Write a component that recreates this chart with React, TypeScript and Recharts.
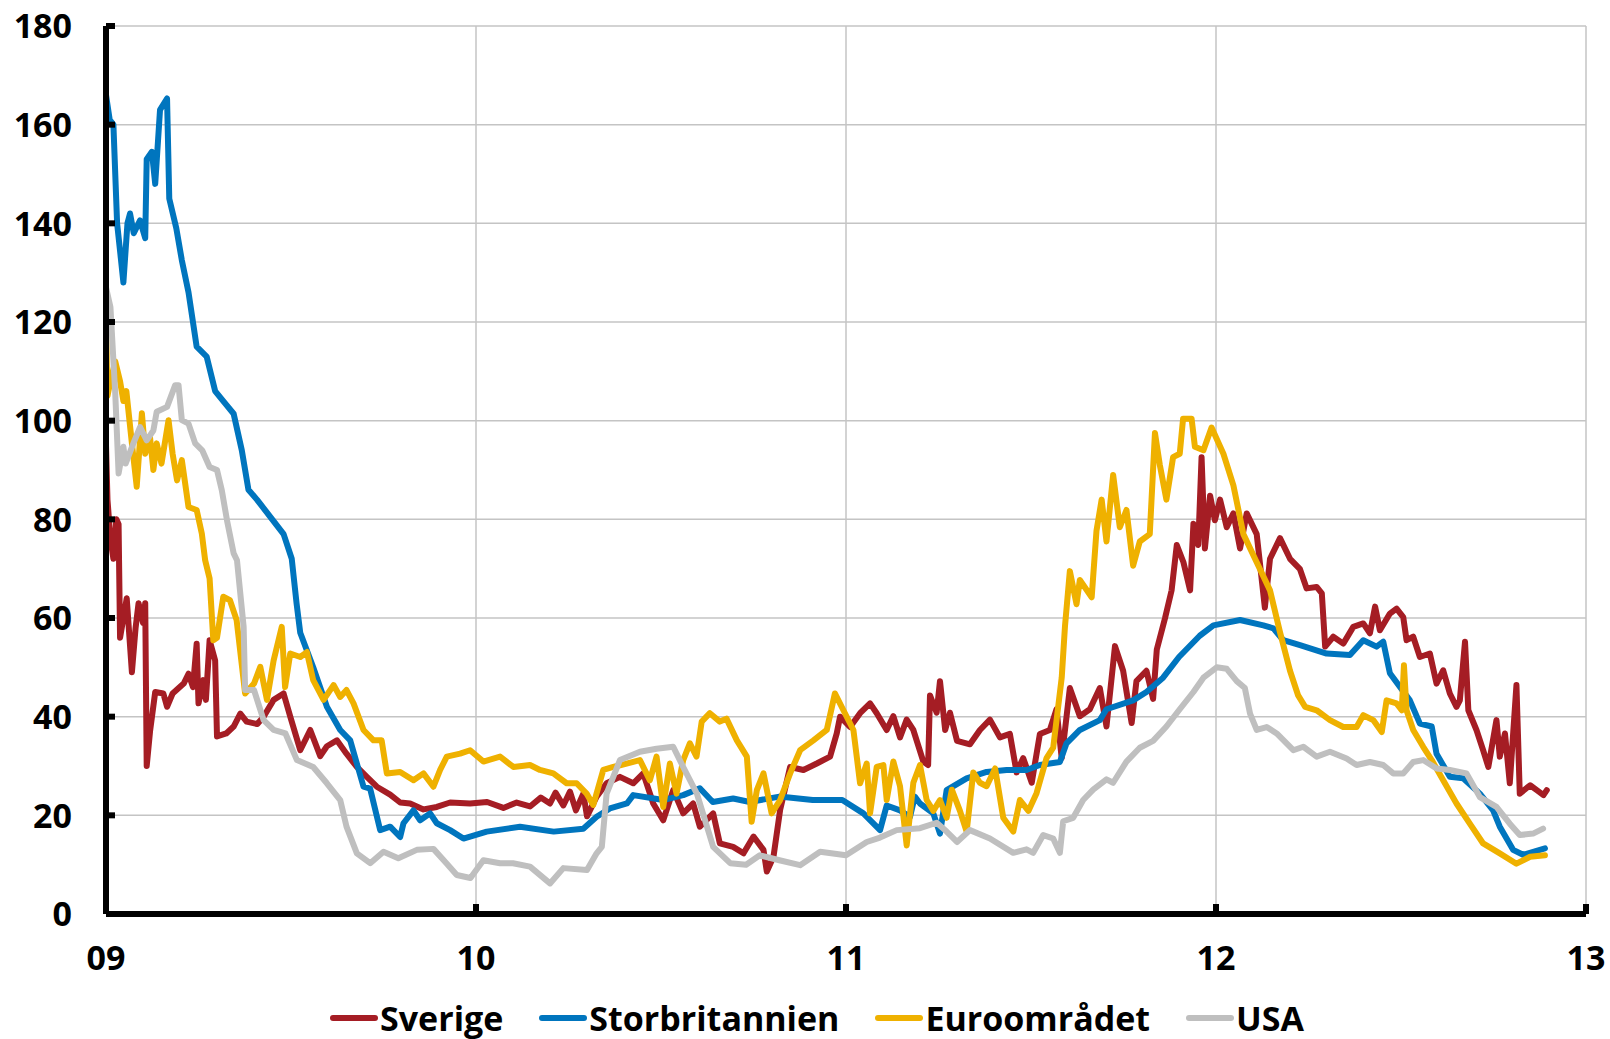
import { LineChart, Line, XAxis, YAxis, CartesianGrid } from "recharts";

const W = 1610;
const H = 1039;
const START_YEAR = 2009;

const yearTicks = [2009, 2010, 2011, 2012, 2013];
const yearLabels = ["09", "10", "11", "12", "13"];
const valueTicks = [0, 20, 40, 60, 80, 100, 120, 140, 160, 180];

// [år efter 2009-01-01, värde]
const sverige: [number, number][] = [
  [0, 95], [0.004, 84], [0.012, 76], [0.02, 72], [0.028, 80], [0.034, 79], [0.038, 56], [0.047, 60],
  [0.056, 64], [0.07, 49], [0.08, 58], [0.088, 63], [0.1, 59], [0.106, 63], [0.11, 30], [0.119, 37],
  [0.133, 45], [0.155, 44.7], [0.165, 42], [0.18, 44.7], [0.21, 46.7], [0.223, 48.7], [0.235, 46],
  [0.245, 54.8], [0.25, 42.7], [0.263, 47.4], [0.27, 43.4], [0.28, 55.5], [0.295, 51.4], [0.3, 36],
  [0.325, 36.6], [0.345, 38], [0.363, 40.6], [0.38, 39], [0.409, 38.5], [0.426, 40], [0.453, 43.4],
  [0.48, 44.7], [0.498, 40], [0.525, 33.2], [0.552, 37.3], [0.579, 32], [0.597, 34], [0.624, 35.2],
  [0.65, 32.5], [0.678, 29.8], [0.705, 27.8], [0.732, 25.8], [0.768, 24.2], [0.795, 22.6], [0.822, 22.4],
  [0.858, 21.2], [0.894, 21.7], [0.93, 22.6], [0.984, 22.4], [1.03, 22.7], [1.074, 21.5], [1.11, 22.6],
  [1.146, 21.8], [1.175, 23.6], [1.2, 22.4], [1.215, 24.6], [1.236, 22], [1.254, 24.8], [1.27, 21],
  [1.29, 24.4], [1.3, 19.8], [1.326, 23.8], [1.353, 26.5], [1.389, 27.8], [1.425, 26.5], [1.452, 28.5],
  [1.479, 22.4], [1.506, 19], [1.533, 25.1], [1.56, 20.4], [1.587, 22.4], [1.605, 17.7], [1.641, 20.4],
  [1.659, 14.3], [1.695, 13.6], [1.723, 12.3], [1.75, 15.7], [1.777, 13], [1.786, 8.6], [1.804, 11.6],
  [1.822, 21.1], [1.849, 29.8], [1.885, 29.2], [1.921, 30.5], [1.957, 31.9], [1.975, 36.6], [1.984, 40],
  [2.011, 37.9], [2.038, 40.7], [2.065, 42.7], [2.083, 40.7], [2.11, 37.3], [2.128, 40.1], [2.146, 35.8],
  [2.164, 39.4], [2.182, 37.3], [2.209, 30.9], [2.222, 30.2], [2.227, 44.3], [2.245, 40.8], [2.254, 47.2],
  [2.268, 37.3], [2.281, 40.8], [2.3, 35.1], [2.335, 34.4], [2.362, 37.3], [2.389, 39.4], [2.416, 35.8],
  [2.443, 36.5], [2.461, 28.7], [2.479, 31.6], [2.502, 26.6], [2.524, 36.5], [2.551, 37.3], [2.569, 41.5],
  [2.583, 31.6], [2.605, 45.8], [2.632, 40.1], [2.659, 41.5], [2.686, 45.8], [2.704, 38], [2.727, 54.3],
  [2.749, 49.3], [2.772, 38.7], [2.785, 47.2], [2.812, 49.3], [2.83, 43.6], [2.84, 53.6], [2.862, 59.9],
  [2.88, 65.6], [2.894, 74.8], [2.912, 71.3], [2.93, 65.6], [2.939, 79.1], [2.952, 74.8], [2.961, 92.6],
  [2.97, 74.1], [2.984, 84.8], [2.997, 79.8], [3.011, 84], [3.029, 78.4], [3.047, 81.2], [3.065, 74.1],
  [3.083, 81.2], [3.11, 77], [3.132, 62.1], [3.146, 72], [3.173, 76.2], [3.2, 72], [3.227, 69.9],
  [3.245, 66], [3.272, 66.3], [3.286, 65], [3.295, 54.2], [3.317, 56.2], [3.344, 54.8], [3.371, 58.2],
  [3.398, 58.9], [3.416, 56.9], [3.43, 62.3], [3.443, 57.5], [3.47, 60.9], [3.488, 61.9], [3.506, 60.2],
  [3.515, 55.5], [3.533, 56.2], [3.551, 52.1], [3.578, 52.8], [3.596, 46.7], [3.614, 49.4], [3.632, 44.7],
  [3.65, 42], [3.659, 43.3], [3.673, 55.2], [3.682, 41.3], [3.704, 37.3], [3.722, 33.2], [3.736, 29.8],
  [3.758, 39.3], [3.767, 31.9], [3.781, 36.6], [3.794, 26.5], [3.812, 46.4], [3.821, 24.4], [3.849, 26.1],
  [3.867, 25.1], [3.885, 24.1], [3.894, 25.1],
];

const storbritannien: [number, number][] = [
  [0, 166], [0.01, 161], [0.02, 160], [0.03, 140], [0.04, 133], [0.047, 128], [0.058, 140], [0.065, 142],
  [0.075, 138], [0.092, 140.6], [0.106, 137], [0.11, 153], [0.124, 154.5], [0.133, 148], [0.146, 163],
  [0.165, 165.3], [0.171, 145], [0.19, 139], [0.205, 132.5], [0.223, 126], [0.245, 115], [0.272, 113],
  [0.295, 106], [0.322, 103.5], [0.345, 101.4], [0.367, 94], [0.385, 86], [0.408, 84], [0.444, 80.5],
  [0.48, 77], [0.502, 72], [0.515, 63], [0.525, 57], [0.56, 50], [0.597, 42], [0.633, 37.3], [0.66, 35.2],
  [0.678, 30.5], [0.696, 25.8], [0.714, 25.4], [0.741, 17], [0.768, 17.7], [0.795, 15.6], [0.804, 18.4],
  [0.831, 21], [0.849, 19], [0.876, 20.4], [0.894, 18.4], [0.93, 17], [0.966, 15.3], [1.029, 16.7],
  [1.119, 17.7], [1.21, 16.7], [1.29, 17.3], [1.326, 19.7], [1.362, 21.4], [1.408, 22.4], [1.425, 24.1],
  [1.506, 23.1], [1.56, 24.1], [1.605, 25.5], [1.64, 22.7], [1.695, 23.4], [1.74, 22.7], [1.82, 23.8],
  [1.91, 23.1], [1.99, 23.1], [2.047, 20.4], [2.092, 17], [2.11, 22], [2.146, 21], [2.173, 19.7],
  [2.186, 23.8], [2.2, 22.4], [2.236, 20.4], [2.254, 16.3], [2.272, 25.1], [2.326, 27.5], [2.38, 28.8],
  [2.434, 29.2], [2.488, 29.2], [2.524, 30.2], [2.578, 30.8], [2.596, 34.6], [2.632, 37.3], [2.686, 39.3],
  [2.704, 41.5], [2.776, 43.3], [2.812, 45], [2.857, 47.9], [2.9, 52.1], [2.956, 56.4], [2.993, 58.5],
  [3.065, 59.6], [3.128, 58.5], [3.155, 57.9], [3.182, 55.5], [3.227, 54.5], [3.299, 52.8], [3.362, 52.5],
  [3.398, 55.5], [3.434, 54.2], [3.452, 55.2], [3.47, 48.8], [3.524, 43.3], [3.551, 38.6], [3.583, 38],
  [3.596, 32.5], [3.632, 27.8], [3.668, 27.5], [3.713, 24.4], [3.749, 21], [3.767, 17.7], [3.803, 13],
  [3.83, 12], [3.889, 13.3],
];

const euroomradet: [number, number][] = [
  [0, 120], [0.004, 105], [0.012, 108], [0.025, 112], [0.038, 108], [0.047, 104], [0.055, 106], [0.07, 95.4],
  [0.083, 86.6], [0.097, 101.5], [0.106, 93.3], [0.119, 96.6], [0.128, 90], [0.137, 95.4], [0.15, 91.3],
  [0.169, 100.1], [0.18, 93.3], [0.192, 87.9], [0.205, 92], [0.223, 82.5], [0.245, 81.9], [0.259, 77.1],
  [0.268, 71.7], [0.28, 68], [0.29, 55.5], [0.3, 56], [0.317, 64.3], [0.335, 63.6], [0.353, 59.6],
  [0.376, 44.7], [0.4, 46.7], [0.417, 50.1], [0.435, 43.4], [0.453, 51.4], [0.475, 58.2], [0.484, 46],
  [0.498, 52.8], [0.525, 52.1], [0.543, 53.1], [0.56, 47.4], [0.588, 43.4], [0.615, 46.4], [0.633, 44],
  [0.65, 45.4], [0.669, 42.7], [0.696, 37.3], [0.723, 35.2], [0.745, 35.2], [0.759, 28.5], [0.795, 28.8],
  [0.831, 27.1], [0.858, 28.5], [0.885, 25.8], [0.903, 29.2], [0.921, 31.9], [0.957, 32.5], [0.984, 33.2],
  [1.02, 30.9], [1.065, 31.9], [1.101, 29.8], [1.146, 30.2], [1.173, 29.2], [1.209, 28.5], [1.245, 26.5],
  [1.272, 26.5], [1.299, 24.4], [1.317, 22.1], [1.344, 29.2], [1.371, 29.8], [1.407, 30.5], [1.443, 31.2],
  [1.47, 27.1], [1.488, 31.9], [1.506, 21.7], [1.524, 30.5], [1.542, 24.4], [1.56, 31.2], [1.578, 34.6],
  [1.596, 31.9], [1.61, 39], [1.632, 40.7], [1.659, 39], [1.677, 39.6], [1.705, 35.2], [1.732, 31.9],
  [1.745, 18.7], [1.759, 25.1], [1.777, 28.5], [1.799, 20.4], [1.822, 23.1], [1.849, 28.5], [1.876, 33.2],
  [1.912, 35.2], [1.948, 37.3], [1.97, 44.7], [1.993, 41.3], [2.02, 37.3], [2.038, 26.5], [2.056, 30.5],
  [2.065, 20.4], [2.083, 29.8], [2.101, 30.2], [2.11, 23.1], [2.128, 30.9], [2.146, 25.9], [2.164, 13.9],
  [2.182, 26.6], [2.2, 30.2], [2.218, 23.1], [2.236, 20.9], [2.254, 23.1], [2.272, 19.5], [2.286, 25.2],
  [2.308, 20.9], [2.326, 16.7], [2.344, 28.7], [2.362, 26.6], [2.38, 25.9], [2.403, 29.5], [2.425, 19.5],
  [2.452, 16.7], [2.47, 23.1], [2.493, 20.9], [2.515, 24.5], [2.542, 31.6], [2.56, 33.7], [2.583, 47.9],
  [2.592, 58.5], [2.605, 69.5], [2.623, 62.8], [2.632, 67.7], [2.664, 64.2], [2.677, 77.7], [2.691, 84],
  [2.704, 75.5], [2.722, 89], [2.74, 78.4], [2.758, 81.9], [2.776, 70.6], [2.794, 75.5], [2.821, 77],
  [2.835, 97.5], [2.848, 91.1], [2.866, 84], [2.884, 92.6], [2.902, 93.3], [2.911, 100.4], [2.934, 100.4],
  [2.943, 94.7], [2.966, 94], [2.988, 98.6], [3.02, 93.3], [3.047, 86.9], [3.074, 77], [3.11, 71.3],
  [3.146, 65.6], [3.173, 57.1], [3.2, 49.3], [3.222, 44.3], [3.241, 42], [3.272, 41.3], [3.308, 39.3],
  [3.344, 37.9], [3.38, 37.9], [3.398, 40.3], [3.425, 39.3], [3.448, 36.9], [3.461, 43.3], [3.488, 42.7],
  [3.502, 41.3], [3.508, 50.4], [3.515, 41.3], [3.533, 37.3], [3.56, 33.9], [3.583, 31.2], [3.614, 27.1],
  [3.65, 22.4], [3.686, 18.3], [3.722, 14.3], [3.767, 12.3], [3.812, 10.2], [3.849, 11.6], [3.889, 11.9],
];

const usa: [number, number][] = [
  [0, 127], [0.012, 123], [0.025, 105.5], [0.034, 89.3], [0.047, 94.7], [0.053, 91.3], [0.074, 95.4],
  [0.092, 98.7], [0.11, 96], [0.128, 98], [0.137, 101.8], [0.165, 102.8], [0.187, 107.2], [0.196, 107.2],
  [0.205, 100.1], [0.223, 99.4], [0.241, 95.4], [0.26, 94], [0.28, 90.6], [0.3, 90], [0.313, 85.9],
  [0.327, 79.8], [0.345, 73.1], [0.354, 71.7], [0.372, 58.2], [0.376, 45.4], [0.4, 45.4], [0.426, 39.3],
  [0.453, 37.3], [0.485, 36.6], [0.516, 31.2], [0.56, 29.8], [0.597, 26.5], [0.633, 23.1], [0.65, 17.7],
  [0.678, 12.3], [0.714, 10.3], [0.75, 12.6], [0.79, 11.3], [0.84, 13], [0.885, 13.2], [0.92, 10.3],
  [0.948, 7.9], [0.985, 7.3], [1.02, 10.9], [1.065, 10.3], [1.1, 10.3], [1.146, 9.6], [1.2, 6.2],
  [1.236, 9.3], [1.3, 8.9], [1.326, 12.3], [1.34, 13.6], [1.353, 24.4], [1.389, 31.2], [1.443, 32.9],
  [1.488, 33.5], [1.533, 33.9], [1.56, 29.8], [1.597, 24.4], [1.641, 13.6], [1.687, 10.3], [1.73, 10],
  [1.767, 11.9], [1.82, 10.9], [1.876, 9.9], [1.93, 12.6], [2.0, 11.9], [2.056, 14.6], [2.092, 15.5],
  [2.137, 17], [2.2, 17.4], [2.245, 18.5], [2.272, 16.7], [2.3, 14.6], [2.335, 17], [2.389, 15.3],
  [2.452, 12.4], [2.488, 13.1], [2.506, 12.4], [2.533, 16], [2.56, 15.3], [2.578, 12.4], [2.587, 18.8],
  [2.614, 19.5], [2.641, 23.1], [2.668, 25.2], [2.704, 27.3], [2.722, 26.6], [2.758, 30.9], [2.794, 33.7],
  [2.83, 35.1], [2.866, 38], [2.902, 41.5], [2.939, 45], [2.966, 47.9], [3.002, 50], [3.029, 49.7],
  [3.056, 47.2], [3.078, 45.8], [3.092, 40.6], [3.11, 37.3], [3.137, 37.9], [3.164, 36.6], [3.209, 33.2],
  [3.236, 33.9], [3.272, 31.9], [3.308, 32.9], [3.353, 31.5], [3.38, 30.2], [3.416, 30.8], [3.452, 30.2],
  [3.479, 28.5], [3.506, 28.5], [3.533, 30.8], [3.56, 31.2], [3.596, 29.5], [3.632, 29.2], [3.677, 28.5],
  [3.713, 23.7], [3.758, 21.7], [3.794, 18.3], [3.821, 16], [3.857, 16.3], [3.884, 17.3],
];

const seriesNames = ["Sverige", "Storbritannien", "Euroområdet", "USA"];
const seriesColors = ["#a51d24", "#0075be", "#efb100", "#bfbfbf"];
const seriesPoints = [sverige, storbritannien, euroomradet, usa];

const toRows = (pts: [number, number][]) =>
  pts.map(([t, v]) => ({ x: START_YEAR + t, v }));

const FONT = "'Open Sans', 'Noto Sans', sans-serif";

const YTick = ({ x, y, payload }: any) => (
  <g>
    <line x1={x} y1={y} x2={x + 9} y2={y} stroke="#000" strokeWidth={6} />
    <text
      x={x - 34}
      y={y}
      dy="0.36em"
      textAnchor="end"
      fontFamily={FONT}
      fontWeight={700}
      fontSize={34}
      fill="#000"
    >
      {payload.value}
    </text>
  </g>
);

const XTick = ({ x, y, payload }: any) => {
  const idx = yearTicks.indexOf(payload.value);
  return (
    <g>
      <line x1={x} y1={y} x2={x} y2={y - 10} stroke="#000" strokeWidth={6} />
      <text
        x={x}
        y={y + 44}
        dy="0.36em"
        textAnchor="middle"
        fontFamily={FONT}
        fontWeight={700}
        fontSize={34}
        fill="#000"
      >
        {yearLabels[idx]}
      </text>
    </g>
  );
};

function LegendRow() {
  return (
    <div
      style={{
        position: "absolute",
        left: 0,
        top: 996,
        width: W,
        paddingLeft: 24,
        boxSizing: "border-box",
        display: "flex",
        justifyContent: "center",
        alignItems: "center",
        fontFamily: FONT,
        fontWeight: 700,
        fontSize: 34,
        lineHeight: "44px",
        color: "#000",
      }}
    >
      {seriesNames.map((name, i) => (
        <div
          key={name}
          style={{
            display: "flex",
            alignItems: "center",
            marginRight: i < seriesNames.length - 1 ? 36 : 0,
          }}
        >
          <span
            style={{
              display: "inline-block",
              width: 48,
              height: 6,
              borderRadius: 3,
              background: seriesColors[i],
              marginRight: 2,
            }}
          />
          <span>{name}</span>
        </div>
      ))}
    </div>
  );
}

export default function App() {
  return (
    <div
      style={{
        position: "absolute",
        left: 0,
        top: 0,
        width: W,
        height: H,
        background: "#fff",
      }}
    >
      <LineChart
        width={W}
        height={H}
        margin={{ top: 26, right: 24, bottom: 0, left: 0 }}
      >
        <CartesianGrid stroke="#c4c4c4" strokeWidth={1.5} />
        <XAxis
          dataKey="x"
          type="number"
          domain={[2009, 2013]}
          ticks={yearTicks}
          interval={0}
          allowDataOverflow
          height={125}
          tickSize={0}
          tickMargin={0}
          axisLine={{ stroke: "#000", strokeWidth: 6 }}
          tickLine={false}
          tick={<XTick />}
        />
        <YAxis
          type="number"
          domain={[0, 180]}
          ticks={valueTicks}
          interval={0}
          width={106}
          tickSize={0}
          tickMargin={0}
          axisLine={{ stroke: "#000", strokeWidth: 6 }}
          tickLine={false}
          tick={<YTick />}
        />
        {seriesPoints.map((pts, i) => (
          <Line
            key={seriesNames[i]}
            name={seriesNames[i]}
            data={toRows(pts)}
            dataKey="v"
            type="linear"
            stroke={seriesColors[i]}
            strokeWidth={6}
            strokeLinejoin="round"
            strokeLinecap="round"
            dot={false}
            activeDot={false}
            isAnimationActive={false}
          />
        ))}
      </LineChart>
      <LegendRow />
    </div>
  );
}
